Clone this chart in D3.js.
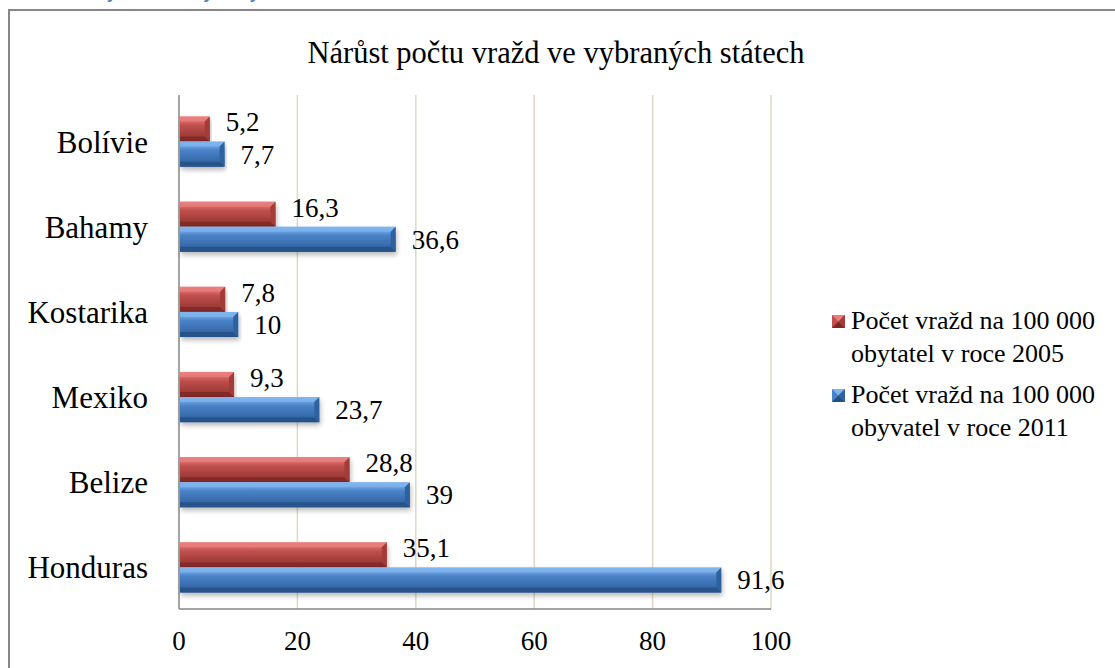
<!DOCTYPE html>
<html>
<head>
<meta charset="utf-8">
<script src="https://cdn.jsdelivr.net/npm/d3@7"></script>
<style>
  body { margin: 0; background: #fff; }
</style>
</head>
<body>
<div class="canvas"></div>
<script>
const categories = ["Bolívie", "Bahamy", "Kostarika", "Mexiko", "Belize", "Honduras"];
const values2005 = [5.2, 16.3, 7.8, 9.3, 28.8, 35.1];
const values2011 = [7.7, 36.6, 10, 23.7, 39, 91.6];
const seriesNames = [
  ["Počet vražd na 100 000", "obytatel v roce 2005"],
  ["Počet vražd na 100 000", "obyvatel v roce 2011"]
];
const xTicks = [0, 20, 40, 60, 80, 100];

const dims = { width: 1115, height: 668 };
const plot = { left: 179, right: 771, top: 95, bottom: 609 };
const serif = '"Liberation Serif", "Times New Roman", serif';

const svg = d3.select(".canvas")
  .append("svg")
  .attr("width", dims.width)
  .attr("height", dims.height);

// caption above the chart frame (cut off at the top, as in the source)
svg.append("text")
  .attr("x", 12)
  .attr("y", -1)
  .attr("fill", "#4f81bd")
  .attr("font-weight", "bold")
  .attr("font-style", "italic")
  .style("font-family", '"Liberation Sans", sans-serif')
  .attr("font-size", 17)
  .text("Graf 3: Počty vražd ve vybraných státech");

// chart frame
svg.append("rect")
  .attr("x", 9).attr("y", 10)
  .attr("width", 1110).attr("height", 670)
  .attr("fill", "#fff")
  .attr("stroke", "#878787")
  .attr("stroke-width", 2);

// title
svg.append("text")
  .attr("x", 556).attr("y", 63)
  .attr("text-anchor", "middle")
  .style("font-family", serif)
  .attr("font-size", 30.5)
  .attr("fill", "#000")
  .text("Nárůst počtu vražd ve vybraných státech");

const x = d3.scaleLinear().domain([0, 100]).range([plot.left, plot.right]);
const y = d3.scaleBand().domain(categories).range([99, 610]).paddingInner(0.41).paddingOuter(0.205);
const sub = d3.scaleBand().domain([0, 1]).range([0, y.bandwidth()]);

// gridlines
svg.append("g")
  .selectAll("line")
  .data(xTicks.slice(1))
  .join("line")
  .attr("x1", (d) => x(d)).attr("x2", (d) => x(d))
  .attr("y1", plot.top).attr("y2", plot.bottom)
  .attr("stroke", "#ddd9c3")
  .attr("stroke-width", 1.5);

// axis lines
svg.append("line")
  .attr("x1", plot.left).attr("x2", plot.left)
  .attr("y1", plot.top).attr("y2", plot.bottom)
  .attr("stroke", "#868686").attr("stroke-width", 1.5);
svg.append("line")
  .attr("x1", plot.left).attr("x2", plot.right)
  .attr("y1", plot.bottom).attr("y2", plot.bottom)
  .attr("stroke", "#868686").attr("stroke-width", 1.5);

// x tick labels
svg.append("g")
  .selectAll("text")
  .data(xTicks)
  .join("text")
  .attr("x", (d) => x(d))
  .attr("y", 650)
  .attr("text-anchor", "middle")
  .style("font-family", serif)
  .attr("font-size", 27)
  .text((d) => d);

// category labels
svg.append("g")
  .selectAll("text")
  .data(categories)
  .join("text")
  .attr("x", 148)
  .attr("y", (d) => y(d) + y.bandwidth() / 2 + 11)
  .attr("text-anchor", "end")
  .style("font-family", serif)
  .attr("font-size", 31)
  .text((d) => d);

const palettes = [
  { hi: "#f08a88", face: "#c0504d", dark: "#8e2f2c", top: "#e97d7a", bottom: "#7e2725", side: "#a33a37" },
  { hi: "#8cc0f4", face: "#4a82c8", dark: "#2c5d98", top: "#7db3ee", bottom: "#234f85", side: "#2f629f" }
];

const defs = svg.append("defs");
palettes.forEach((p, i) => {
  const g = defs.append("linearGradient")
    .attr("id", "face" + i)
    .attr("x1", 0).attr("x2", 0).attr("y1", 0).attr("y2", 1);
  g.append("stop").attr("offset", "0%").attr("stop-color", p.hi);
  g.append("stop").attr("offset", "35%").attr("stop-color", p.face);
  g.append("stop").attr("offset", "100%").attr("stop-color", p.dark);
});
const shadow = defs.append("filter").attr("id", "shadow")
  .attr("x", "-5%").attr("y", "-20%").attr("width", "110%").attr("height", "170%");
shadow.append("feDropShadow")
  .attr("dx", 1).attr("dy", 3).attr("stdDeviation", 2.5)
  .attr("flood-color", "#000").attr("flood-opacity", 0.28);

// beveled bar
const drawBar = (g, x0, x1, y0, h, p, i) => {
  const b = Math.min(5, (x1 - x0) / 2);
  const y1 = y0 + h;
  const bar = g.append("g").attr("filter", "url(#shadow)");
  bar.append("rect")
    .attr("x", x0).attr("y", y0)
    .attr("width", x1 - x0).attr("height", h)
    .attr("fill", `url(#face${i})`);
  bar.append("polygon")
    .attr("points", [[x0, y0], [x1, y0], [x1 - b, y0 + b], [x0, y0 + b]].join(" "))
    .attr("fill", p.top).attr("opacity", 0.8);
  bar.append("polygon")
    .attr("points", [[x0, y1], [x1, y1], [x1 - b, y1 - b], [x0, y1 - b]].join(" "))
    .attr("fill", p.bottom).attr("opacity", 0.8);
  bar.append("polygon")
    .attr("points", [[x1, y0], [x1, y1], [x1 - b, y1 - b], [x1 - b, y0 + b]].join(" "))
    .attr("fill", p.side);
};

const series = [values2005, values2011];
const barsG = svg.append("g");
series.forEach((vals, si) => {
  vals.forEach((v, ci) => {
    const y0 = y(categories[ci]) + sub(si);
    drawBar(barsG, x(0) + 1, x(v), y0, sub.bandwidth(), palettes[si], si);
  });
});

// data labels
series.forEach((vals, si) => {
  svg.append("g")
    .selectAll("text")
    .data(vals)
    .join("text")
    .attr("x", (d) => x(d) + 16)
    .attr("y", (d, ci) => y(categories[ci]) + sub(si) + (si === 0 ? 15 : 22))
    .style("font-family", serif)
    .attr("font-size", 27)
    .text((d) => String(d).replace(".", ","));
});

// legend
const legend = svg.append("g");
seriesNames.forEach((lines, i) => {
  const top = 315 + i * 74;
  const p = palettes[i];
  const s = 13, sx = 832, sy = top;
  legend.append("rect").attr("x", sx).attr("y", sy).attr("width", s).attr("height", s).attr("fill", p.face);
  legend.append("polygon").attr("points", [[sx, sy], [sx + s, sy], [sx + s / 2, sy + s / 2]].join(" ")).attr("fill", p.top);
  legend.append("polygon").attr("points", [[sx, sy + s], [sx + s, sy + s], [sx + s / 2, sy + s / 2]].join(" ")).attr("fill", p.bottom);
  legend.append("polygon").attr("points", [[sx + s, sy], [sx + s, sy + s], [sx + s / 2, sy + s / 2]].join(" ")).attr("fill", p.side);
  lines.forEach((t, li) => {
    legend.append("text")
      .attr("x", 851)
      .attr("y", top + 14 + li * 33)
      .style("font-family", serif)
      .attr("font-size", 26)
      .text(t);
  });
});
</script>
</body>
</html>
